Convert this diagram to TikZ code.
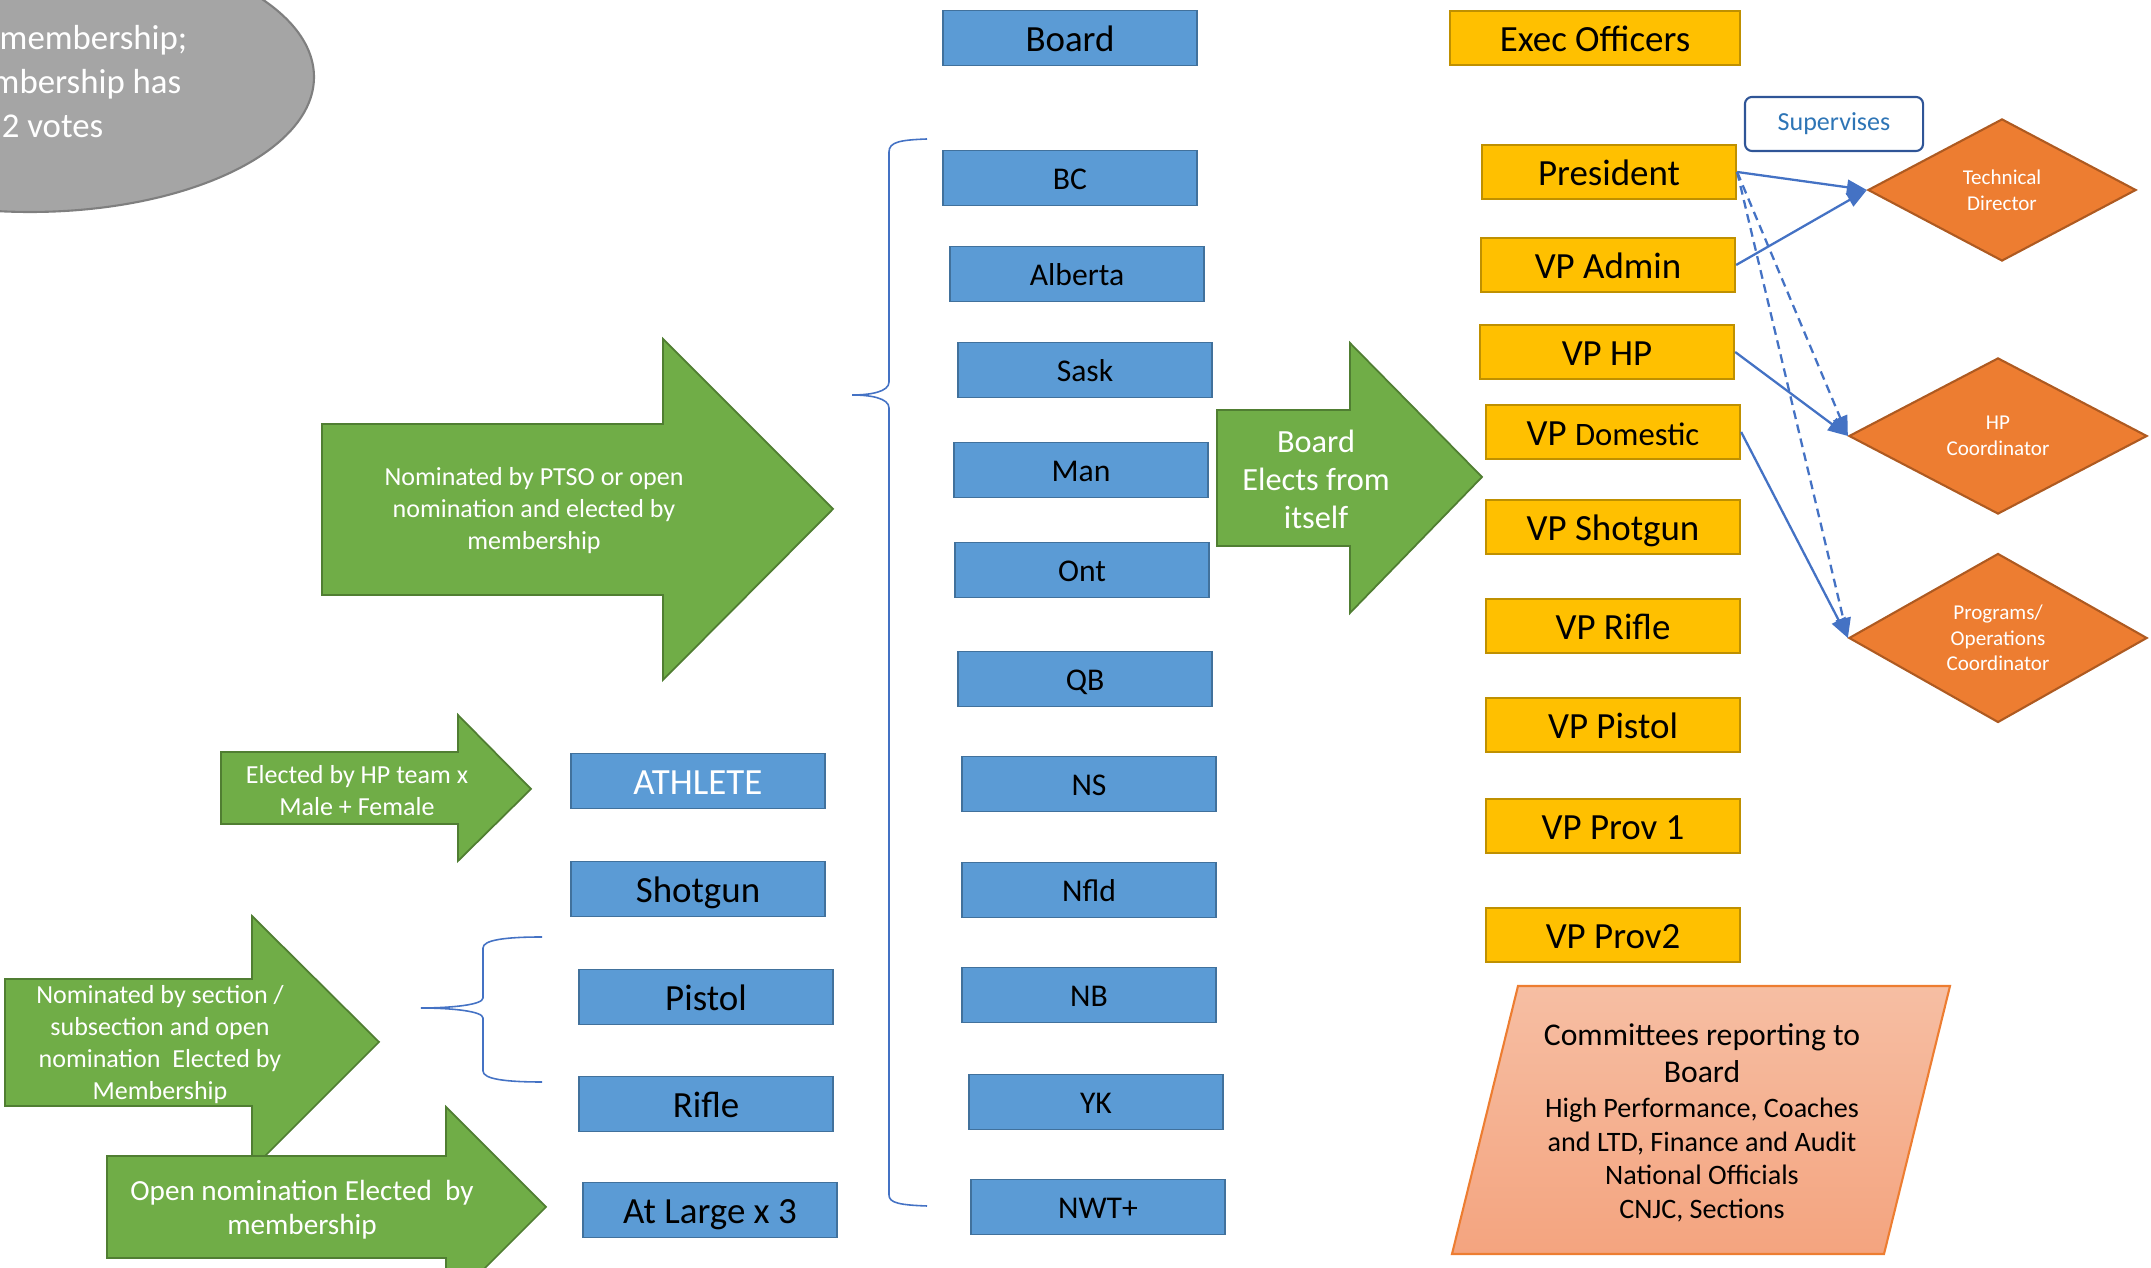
\documentclass[tikz,border=0pt]{standalone}
\usepackage{fontspec}
\setmainfont{Carlito}
\usetikzlibrary{arrows.meta,shapes.geometric}

\definecolor{seatblue}{HTML}{5B9BD5}
\definecolor{seatline}{HTML}{41719C}
\definecolor{execgold}{HTML}{FFC000}
\definecolor{execline}{HTML}{BF9000}
\definecolor{electgreen}{HTML}{70AD47}
\definecolor{electline}{HTML}{507E32}
\definecolor{stafforange}{HTML}{ED7D31}
\definecolor{staffline}{HTML}{AE5A21}
\definecolor{linkblue}{HTML}{4472C4}
\definecolor{legendline}{HTML}{2F5597}
\definecolor{legendtext}{HTML}{2E75B6}
\definecolor{notegray}{HTML}{A5A5A5}
\definecolor{noteline}{HTML}{7F7F7F}
\definecolor{cttop}{HTML}{F6BEA3}
\definecolor{ctbottom}{HTML}{F4A47F}

\tikzset{
	>={Triangle[length=0.2cm,width=0.15cm]}, % filled heads
	every node/.style={inner sep=0pt},
	seat/.style={draw=seatline, fill=seatblue, line width=0.5pt,
		minimum width=2.54cm, minimum height=0.55cm,
		font=\fontsize{9}{11}\selectfont, text height=8.8pt, text depth=2.4pt},
	bigseat/.style={seat, font=\fontsize{10.5}{12.6}\selectfont, text height=10.3pt, text depth=2.6pt},
	officer/.style={draw=execline, fill=execgold, line width=0.6pt,
		minimum width=2.54cm, minimum height=0.54cm,
		font=\fontsize{10.5}{12.6}\selectfont, text height=10.3pt, text depth=2.6pt},
	staff/.style={diamond, draw=staffline, fill=stafforange, line width=0.6pt,
		text=white, align=center, font=\fontsize{6}{7.3}\selectfont},
	legend/.style={draw=legendline, line width=0.6pt, rounded corners=2pt,
		minimum width=1.78cm, minimum height=0.54cm, text=legendtext,
		font=\fontsize{7.4}{9}\selectfont},
	elect/.style={draw=electline, fill=electgreen, line width=0.5pt},
	electtext/.style={text=white, align=center, font=\fontsize{7.4}{9.1}\selectfont},
	notetext/.style={text=white, font=\fontsize{9.9}{12.8}\selectfont},
	brace/.style={draw=linkblue, line width=0.45pt},
	reports/.style={->, draw=linkblue, line width=0.65pt},
	oversees/.style={reports, dash pattern=on 2.5pt off 1.6pt},
}

\begin{document}
\begin{tikzpicture}[x=0.01cm, y=-0.01cm]
\useasboundingbox (0,0) rectangle (2151,1268);
\clip (0,0) rectangle (2151,1268);

% members note
\draw[fill=notegray, draw=noteline, line width=0.6pt] (30,77) ellipse [x radius=284, y radius=135];
\node[notetext, anchor=base east] (vote1) at (188,50) {membership;};
\node[notetext, anchor=base east] (vote2) at (182,94) {membership has};
\node[notetext, anchor=base east] (vote3) at (104,138) {2 votes};

% board seats
\node[bigseat] (board) at (1070,38) {Board};
\node[seat] (bc)   at (1070,178) {BC};
\node[seat] (ab)   at (1077,274) {Alberta};
\node[seat] (sk)   at (1085,370) {Sask};
\node[seat] (mb)   at (1081,470) {Man};
\node[seat] (on)   at (1082,570) {Ont};
\node[seat] (qc)   at (1085,679) {QB};
\node[seat] (ns)   at (1089,784) {NS};
\node[seat] (nl)   at (1089,890) {Nfld};
\node[seat] (nb)   at (1089,995) {NB};
\node[seat] (yk)   at (1096,1102) {YK};
\node[seat] (nwt)  at (1098,1207) {NWT+};

\node[bigseat, text=white] (athlete) at (698,781) {ATHLETE};
\node[bigseat] (shotgun) at (698,889) {Shotgun};
\node[bigseat] (pistol)  at (706,997) {Pistol};
\node[bigseat] (rifle)   at (706,1104) {Rifle};
\node[bigseat] (atlarge) at (710,1210) {At Large x 3};

% executive
\node[officer, minimum width=2.89cm] (exec) at (1595,38) {Exec Officers};
\node[officer] (president)  at (1609,172) {President};
\node[officer] (vpadmin)    at (1608,265) {VP Admin};
\node[officer] (vphp)       at (1607,352) {VP HP};
\node[officer] (vpdomestic) at (1613,432) {VP {\fontsize{9.3}{11}\selectfont Domestic}};
\node[officer] (vpshotgun)  at (1613,527) {VP Shotgun};
\node[officer] (vprifle)    at (1613,626) {VP Rifle};
\node[officer] (vppistol)   at (1613,725) {VP Pistol};
\node[officer] (vpprov1)    at (1613,826) {VP Prov 1};
\node[officer] (vpprov2)    at (1613,935) {VP Prov2};

% staff
\node[legend] (supervises) at (1834,124) {Supervises};
\node[staff, minimum width=2.68cm, minimum height=1.42cm] (techdir)   at (2002,190) {Technical\\Director};
\node[staff, minimum width=2.98cm, minimum height=1.56cm] (hpcoord)   at (1998,436) {HP\\Coordinator};
\node[staff, minimum width=2.98cm, minimum height=1.56cm] (progcoord) at (1998,638) {Programs/\\Operations\\Coordinator};

\draw[reports] (president.east) -- (techdir.west);
\draw[reports] (vpadmin.east) -- (techdir.west);
\draw[reports] (vphp.east) -- (hpcoord.west);
\draw[reports] (vpdomestic.east) -- (progcoord.west);
\draw[oversees] (president.east) -- (hpcoord.west);
\draw[oversees] (president.east) -- (progcoord.west);

% braces
\draw[brace] (927,139) .. controls (900,140) and (889,142) .. (889,152) -- (889,382)
	.. controls (889,392) and (870,395) .. (852,395)
	.. controls (870,395) and (889,398) .. (889,408) -- (889,1195)
	.. controls (889,1203) and (900,1205) .. (927,1206);
\draw[brace] (542,937) .. controls (505,937) and (483,940) .. (483,948) -- (483,998)
	.. controls (483,1005) and (450,1008) .. (421,1008)
	.. controls (450,1008) and (483,1011) .. (483,1018) -- (483,1071)
	.. controls (483,1079) and (505,1082) .. (542,1082);

% election arrows
\draw[elect] (322,424) -- (663,424) -- (663,339) -- (833,509) -- (663,680) -- (663,595) -- (322,595) -- cycle;
\node[electtext] (byptso) at (534,511) {Nominated by PTSO or open\\nomination and elected by\\membership};

\draw[elect] (1217,410) -- (1350,410) -- (1350,343) -- (1482,477) -- (1350,613) -- (1350,546) -- (1217,546) -- cycle;
\node[electtext, font=\fontsize{9.2}{10.8}\selectfont] (fromitself) at (1316,479) {Board\\Elects from\\itself};

\draw[elect] (221,752) -- (458,752) -- (458,715) -- (531,789) -- (458,861) -- (458,824) -- (221,824) -- cycle;
\node[electtext] (byhpteam) at (357,791) {Elected by HP team x\\Male + Female};

\draw[elect] (5,979) -- (252,979) -- (252,916) -- (379,1042) -- (252,1169) -- (252,1106) -- (5,1106) -- cycle;
\node[electtext] (bysection) at (160,1045) {Nominated by section /\\subsection and open\\nomination\ \ Elected by\\Membership};

\draw[elect] (107,1156) -- (446,1156) -- (446,1107) -- (546,1207) -- (446,1307) -- (446,1258) -- (107,1258) -- cycle;
\node[electtext, font=\fontsize{8.3}{9.7}\selectfont] (byopen) at (302,1210) {Open nomination Elected\ \ by\\membership};

% committees
\draw[top color=cttop, bottom color=ctbottom, draw=stafforange, line width=0.6pt]
	(1518,986) -- (1950,986) -- (1884,1254) -- (1452,1254) -- cycle;
\node[align=center, font=\fontsize{9}{10.5}\selectfont] (cttitle) at (1702,1053) {Committees reporting to\\Board};
\node[align=center, font=\fontsize{8}{9.6}\selectfont] (ctlist) at (1702,1160) {High Performance, Coaches\\and LTD, Finance and Audit\\National Officials\\CNJC, Sections};

\end{tikzpicture}
\end{document}
